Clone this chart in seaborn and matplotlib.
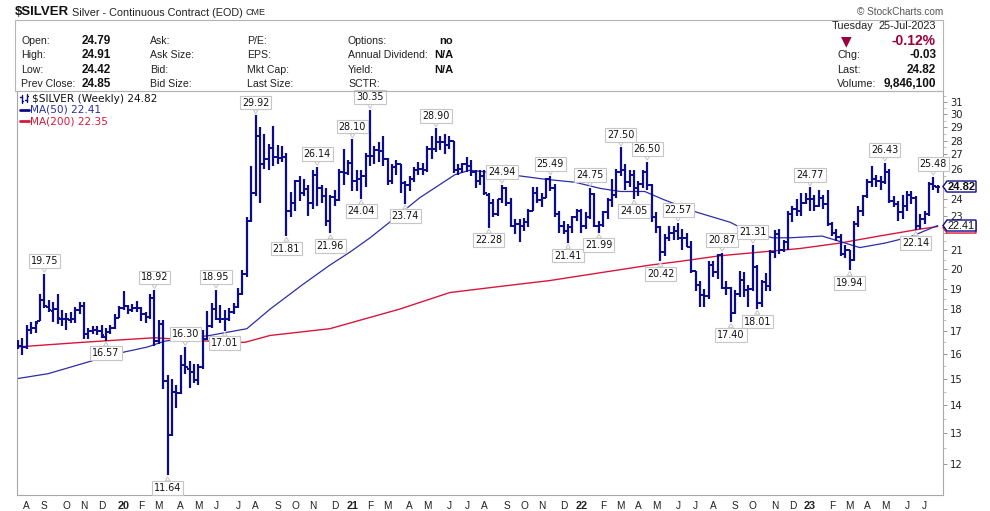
import pandas as pd
import matplotlib
matplotlib.use("Agg")
import matplotlib.pyplot as plt
import matplotlib.dates as mdates
from matplotlib.lines import Line2D
from matplotlib.patches import Rectangle, Polygon
from matplotlib.transforms import IdentityTransform
from matplotlib.ticker import FixedLocator, FixedFormatter, NullFormatter
import seaborn as sns

# --- weekly bars, first bar is the week of 22-Jul-2019 ---
first_week = "2019-07-22"

opens = [
    16.45, 16.35, 16.30, 17.05, 17.15, 17.45, 18.45, 18.10, 17.90, 18.00,
    17.55, 17.55, 17.50, 17.55, 17.95, 18.15, 16.85, 17.00, 17.05, 17.00,
    16.75, 16.95, 17.15, 17.60, 18.05, 18.15, 17.95, 18.05, 18.05, 17.75,
    17.65, 18.55, 16.55, 17.30, 14.90, 12.95, 14.50, 14.45, 15.55, 15.40,
    15.25, 14.95, 15.45, 16.65, 17.20, 18.00, 17.55, 17.55, 17.55, 17.85,
    18.10, 18.75, 19.75, 22.70, 24.40, 28.30, 26.30, 26.70, 27.45, 26.85,
    26.75, 26.80, 23.25, 23.80, 25.15, 24.40, 24.65, 23.80, 25.55, 24.75,
    24.20, 22.65, 24.15, 23.95, 25.75, 25.70, 26.40, 25.20, 25.30, 25.50,
    26.90, 26.90, 27.30, 27.25, 26.65, 25.20, 26.15, 26.30, 25.05, 24.90,
    25.30, 25.90, 26.00, 25.95, 27.40, 27.40, 27.90, 27.90, 27.70, 28.00,
    25.90, 26.00, 26.30, 26.20, 25.80, 25.20, 25.50, 24.30, 23.75, 23.10,
    24.00, 24.70, 23.80, 22.40, 22.50, 22.40, 22.60, 23.30, 24.40, 23.95,
    24.10, 25.30, 24.75, 23.10, 22.40, 22.10, 22.30, 22.90, 23.30, 22.40,
    22.90, 24.35, 22.40, 22.45, 23.20, 23.95, 24.25, 25.80, 25.90, 25.10,
    25.60, 24.70, 25.00, 25.75, 24.95, 22.90, 22.35, 20.90, 21.70, 22.00,
    22.10, 21.70, 21.70, 21.20, 19.90, 19.20, 18.70, 18.65, 20.20, 19.85,
    20.75, 19.05, 19.05, 17.80, 18.75, 19.45, 18.95, 19.00, 20.10, 18.30,
    19.35, 19.15, 20.90, 21.90, 21.00, 21.45, 23.10, 23.40, 23.30, 23.80,
    24.00, 24.00, 23.60, 24.10, 23.70, 22.50, 22.00, 21.75, 20.80, 21.00,
    20.50, 22.50, 23.30, 24.20, 25.10, 25.30, 25.20, 25.10, 25.80, 23.90,
    23.70, 23.20, 23.60, 24.30, 24.10, 22.40, 22.80, 23.10, 25.00, 24.79,
]
highs = [
    16.60, 16.70, 17.25, 17.40, 17.45, 18.75, 19.75, 18.45, 18.35, 18.75,
    17.95, 17.80, 17.85, 18.10, 18.35, 18.35, 17.15, 17.20, 17.20, 17.25,
    17.15, 17.25, 17.75, 18.15, 18.90, 18.20, 18.25, 18.40, 18.10, 17.85,
    18.75, 18.92, 17.50, 17.50, 15.15, 15.00, 14.75, 15.95, 16.30, 15.70,
    15.60, 15.60, 17.05, 17.90, 18.30, 18.95, 18.20, 17.95, 18.05, 18.30,
    19.05, 19.95, 22.90, 26.20, 29.92, 29.00, 28.50, 27.75, 29.10, 27.70,
    27.60, 27.10, 24.45, 25.25, 25.50, 25.30, 24.90, 25.90, 26.14, 24.90,
    24.70, 24.30, 24.60, 26.00, 27.40, 26.60, 28.10, 25.90, 25.90, 27.10,
    30.35, 27.60, 27.90, 28.30, 26.75, 26.30, 26.60, 26.30, 25.15, 25.50,
    26.10, 26.50, 26.40, 27.60, 28.30, 28.90, 28.30, 28.50, 28.30, 28.00,
    26.30, 26.40, 26.80, 26.60, 25.90, 25.90, 25.90, 24.40, 24.00, 24.00,
    24.94, 24.80, 24.10, 22.80, 22.80, 22.85, 23.40, 24.80, 24.80, 24.40,
    25.40, 25.49, 25.00, 23.30, 22.70, 22.50, 23.00, 23.40, 23.40, 23.20,
    24.75, 24.40, 22.70, 23.30, 24.10, 25.30, 26.00, 27.50, 26.30, 25.90,
    25.90, 25.20, 25.90, 26.50, 25.00, 23.20, 22.40, 21.90, 22.40, 22.40,
    22.57, 22.20, 22.00, 21.50, 19.90, 19.40, 19.00, 20.40, 20.40, 20.80,
    20.87, 19.40, 19.10, 18.95, 19.90, 19.85, 19.20, 21.31, 20.20, 19.45,
    19.80, 21.00, 22.15, 22.20, 21.60, 23.30, 23.60, 24.00, 24.40, 24.40,
    24.77, 24.30, 24.60, 24.30, 24.60, 22.60, 22.20, 21.90, 21.30, 21.00,
    22.70, 23.60, 24.30, 25.30, 26.20, 25.60, 25.50, 26.43, 26.00, 24.20,
    23.90, 24.30, 24.50, 24.50, 24.20, 23.10, 23.30, 25.10, 25.48, 24.91,
]
lows = [
    16.20, 15.95, 16.20, 16.85, 16.90, 17.45, 18.05, 17.85, 17.40, 17.30,
    17.20, 17.05, 17.35, 17.35, 17.75, 16.65, 16.65, 16.85, 16.80, 16.70,
    16.57, 16.85, 17.10, 17.60, 17.95, 17.75, 17.85, 17.85, 17.45, 17.35,
    17.55, 16.35, 16.45, 14.60, 11.64, 12.90, 13.90, 14.40, 15.20, 14.65,
    14.85, 14.75, 15.40, 16.60, 17.15, 17.50, 17.35, 17.01, 17.45, 17.75,
    18.05, 18.70, 19.60, 22.60, 24.20, 23.80, 26.00, 25.90, 26.20, 26.30,
    26.50, 21.81, 22.90, 23.30, 23.90, 24.20, 23.00, 23.40, 23.60, 23.80,
    22.40, 21.96, 23.60, 23.90, 24.90, 25.60, 24.50, 24.50, 24.04, 24.80,
    26.20, 26.30, 26.50, 26.20, 24.90, 25.00, 25.60, 24.40, 23.74, 24.50,
    25.10, 25.60, 25.60, 25.80, 26.70, 27.20, 27.30, 27.00, 27.40, 25.70,
    25.60, 25.70, 25.80, 25.50, 24.70, 24.90, 24.30, 22.28, 22.90, 23.00,
    23.80, 23.60, 22.30, 21.90, 21.45, 22.10, 22.30, 23.30, 23.80, 23.50,
    24.10, 24.50, 22.90, 22.00, 21.90, 21.41, 22.00, 22.70, 22.00, 22.20,
    22.80, 22.30, 21.99, 22.30, 22.80, 23.50, 24.10, 25.50, 24.60, 24.80,
    24.05, 24.20, 24.70, 24.60, 22.60, 22.00, 20.42, 20.70, 21.50, 21.60,
    21.60, 21.00, 21.20, 19.80, 18.90, 18.10, 18.10, 18.50, 19.60, 19.50,
    19.00, 18.70, 17.40, 17.75, 18.60, 18.60, 18.10, 18.90, 18.01, 18.10,
    18.90, 18.90, 20.60, 20.80, 20.90, 21.00, 22.60, 23.00, 23.00, 23.70,
    23.30, 23.30, 23.50, 23.40, 22.40, 21.80, 21.50, 20.70, 20.60, 19.94,
    20.40, 22.30, 23.00, 24.10, 24.80, 24.80, 24.60, 25.00, 23.80, 23.50,
    22.70, 22.80, 23.30, 23.70, 22.14, 22.20, 22.50, 23.00, 24.60, 24.42,
]
closes = [
    16.35, 16.30, 17.05, 17.15, 17.35, 18.45, 18.15, 17.95, 18.00, 17.60,
    17.55, 17.55, 17.55, 17.95, 18.15, 16.85, 17.00, 17.05, 17.00, 16.80,
    16.95, 17.15, 17.60, 18.05, 18.15, 17.95, 18.05, 18.05, 17.75, 17.65,
    18.55, 16.55, 17.30, 14.90, 12.95, 14.50, 14.45, 15.55, 15.45, 15.25,
    14.95, 15.45, 16.65, 17.20, 18.00, 17.55, 17.55, 17.55, 17.85, 18.10,
    18.75, 19.75, 22.70, 24.40, 28.30, 26.30, 26.70, 27.45, 26.85, 26.75,
    26.80, 23.25, 23.80, 25.15, 24.40, 24.65, 23.80, 25.55, 24.75, 24.20,
    22.65, 24.15, 23.95, 25.75, 25.70, 26.40, 25.20, 25.30, 25.50, 26.90,
    26.90, 27.30, 27.25, 26.65, 25.20, 26.15, 26.30, 25.05, 24.90, 25.30,
    25.90, 26.00, 25.95, 27.40, 27.40, 27.90, 27.90, 27.70, 28.00, 25.90,
    26.00, 26.30, 26.20, 25.80, 25.20, 25.50, 24.40, 23.75, 23.10, 24.00,
    24.70, 23.80, 22.40, 22.50, 22.40, 22.60, 23.30, 24.40, 23.95, 24.10,
    25.30, 24.75, 23.10, 22.40, 22.10, 22.30, 22.90, 23.30, 22.40, 22.90,
    24.35, 22.40, 22.45, 23.20, 23.95, 24.25, 25.80, 25.90, 25.10, 25.60,
    24.70, 25.00, 25.75, 24.95, 22.90, 22.35, 20.90, 21.70, 22.00, 22.10,
    21.70, 21.70, 21.20, 19.90, 19.20, 18.70, 18.65, 20.20, 19.85, 20.75,
    19.05, 19.05, 17.80, 18.75, 19.45, 18.95, 19.00, 20.10, 18.30, 19.35,
    19.15, 20.90, 21.90, 21.00, 21.45, 23.10, 23.40, 23.30, 23.80, 24.00,
    24.00, 23.60, 24.10, 23.70, 22.50, 22.00, 21.75, 20.80, 21.00, 20.50,
    22.50, 23.30, 24.20, 25.10, 25.30, 25.20, 25.10, 25.80, 23.90, 23.70,
    23.20, 23.60, 24.30, 24.10, 22.40, 22.80, 23.10, 25.00, 24.85, 24.82,
]

# bars that carry a high / low price label
peak_idx = [6, 31, 38, 45, 54, 68, 76, 80, 95, 110, 121, 130, 137, 143,
            150, 160, 167, 180, 197, 208]
trough_idx = [20, 34, 47, 61, 71, 78, 88, 107, 125, 132, 140, 146, 162,
              168, 189, 204]

# moving averages
ma50_dates = ["2019-07-20", "2019-09-08", "2019-11-01", "2019-12-23", "2020-02-13",
              "2020-03-11", "2020-05-22", "2020-07-20", "2020-08-26", "2020-10-17",
              "2020-11-29", "2020-12-31", "2021-02-01", "2021-03-04", "2021-04-21",
              "2021-06-16", "2021-07-09", "2021-08-26", "2021-11-06", "2021-12-24",
              "2022-02-02", "2022-03-06", "2022-04-14", "2022-05-13", "2022-07-06",
              "2022-08-28", "2022-09-29", "2022-11-04", "2022-12-01", "2023-01-21",
              "2023-02-27", "2023-03-22", "2023-05-01", "2023-06-10", "2023-07-24"]
ma50_vals = [15.0, 15.2, 15.6, 16.0, 16.3,
             16.55, 16.8, 17.1, 18.0, 19.2,
             20.2, 20.9, 21.7, 22.6, 24.1,
             25.6, 25.9, 25.7, 25.3, 25.1,
             24.7, 24.5, 24.5, 24.0, 23.2,
             22.6, 22.0, 21.7, 21.7, 21.8,
             21.4, 21.15, 21.4, 21.75, 22.41]

ma200_dates = ["2019-07-20", "2019-11-01", "2020-02-24", "2020-05-22", "2020-07-17",
               "2020-08-26", "2020-11-29", "2021-03-20", "2021-06-08", "2021-08-26",
               "2021-11-14", "2022-02-02", "2022-04-22", "2022-06-09", "2022-08-11",
               "2022-10-14", "2022-12-17", "2023-02-18", "2023-04-22", "2023-06-26",
               "2023-07-24"]
ma200_vals = [16.3, 16.5, 16.7, 16.55, 16.5,
              16.8, 17.1, 18.0, 18.8, 19.1,
              19.4, 19.8, 20.2, 20.4, 20.7,
              20.9, 21.1, 21.4, 21.8, 22.2,
              22.35]

price_ticks = list(range(12, 32))
hidden_ticks = [22, 25]   # covered by the value tags
month_letters = "JFMAMJJASOND"

info_labels = [["Open:", "High:", "Low:", "Prev Close:"],
               ["Ask:", "Ask Size:", "Bid:", "Bid Size:"],
               ["P/E:", "EPS:", "Mkt Cap:", "Last Size:"],
               ["Options:", "Annual Dividend:", "Yield:", "SCTR:"]]
info_values = ["24.79", "24.91", "24.42", "24.85"]
info_values_right = ["no", "N/A", "N/A", ""]
quote_labels = ["Chg:", "Last:", "Volume:"]
quote_values = ["-0.03", "24.82", "9,846,100"]

W, H = 990, 511
navy = "#0b0b8c"
ma50_color = "#2d2da8"
ma200_color = "#d8173c"
dark_red = "#99003d"

sns.set_theme(style="white")
plt.rcParams["font.family"] = ["DejaVu Sans"]

fig = plt.figure(figsize=(W / 100, H / 100), dpi=100)
fig.patch.set_facecolor("white")
ax = fig.add_axes([17 / W, 1 - 495 / H, 926 / W, 404 / H])
ax.set_facecolor("white")

weeks = pd.date_range(first_week, periods=len(closes), freq="7D")
xs = mdates.date2num(weeks)

# moving averages (seaborn), under the bars
sns.lineplot(x=mdates.date2num(pd.to_datetime(ma200_dates)), y=ma200_vals, ax=ax,
             color=ma200_color, lw=1.0, estimator=None, sort=False, zorder=1)
sns.lineplot(x=mdates.date2num(pd.to_datetime(ma50_dates)), y=ma50_vals, ax=ax,
             color=ma50_color, lw=0.9, estimator=None, sort=False, zorder=1)

# OHLC bars
tick = 4.0
ax.vlines(xs, lows, highs, color=navy, lw=1.6, zorder=3)
ax.hlines(opens, xs - tick, xs, color=navy, lw=1.4, zorder=3)
ax.hlines(closes, xs, xs + tick, color=navy, lw=1.4, zorder=3)

ax.set_yscale("log")
ax.set_ylim(11.06, 31.88)
ax.set_xlim(mdates.date2num(pd.Timestamp("2019-07-20 10:00")),
            mdates.date2num(pd.Timestamp("2023-08-01 10:00")))

# right price axis
ax.yaxis.tick_right()
ax.yaxis.set_major_locator(FixedLocator(price_ticks))
ax.yaxis.set_major_formatter(FixedFormatter(
    ["" if p in hidden_ticks else str(p) for p in price_ticks]))
ax.yaxis.set_minor_locator(FixedLocator([p + 0.5 for p in price_ticks]))
ax.yaxis.set_minor_formatter(NullFormatter())
ax.tick_params(axis="y", which="major", length=3, width=0.6, color="#888888",
               labelsize=7.2, pad=2, labelcolor="#222222")
ax.tick_params(axis="y", which="minor", length=2, width=0.5, color="#aaaaaa")

# month axis
month_pos, month_lab = [], []
for i in range(1, len(weeks)):
    if weeks[i].month != weeks[i - 1].month:
        month_pos.append(xs[i])
        m = weeks[i].month
        month_lab.append(f"{weeks[i].year % 100:02d}" if m == 1 else month_letters[m - 1])
ax.set_xticks(month_pos, labels=month_lab)
ax.xaxis.set_minor_locator(FixedLocator(xs))
ax.tick_params(axis="x", which="major", length=2.5, width=0.6, color="#888888",
               labelsize=7.3, pad=1.5, labelcolor="#222222")
ax.tick_params(axis="x", which="minor", length=1.5, width=0.5, color="#aaaaaa")
for lab in ax.get_xticklabels():
    lab.set_family(["Liberation Sans", "DejaVu Sans"])
    if lab.get_text().isdigit():
        lab.set_fontweight("bold")
        lab.set_fontsize(7.8)

for s in ax.spines.values():
    s.set_color("#a8a8a8")
    s.set_linewidth(0.8)

# high / low price labels
box = dict(boxstyle="square,pad=0.2", fc="white", ec="#c6c6c6", lw=0.8)
arrow = dict(arrowstyle="wedge,tail_width=0.5,shrink_factor=0.5", fc="white",
             ec="#c6c6c6", lw=0.7, shrinkA=0, shrinkB=1)
for i in peak_idx:
    ax.annotate(f"{highs[i]:.2f}", xy=(xs[i], highs[i]), xytext=(0, 5.5),
                textcoords="offset points", ha="center", va="bottom",
                fontsize=6.9, family=["DejaVu Sans"], color="#111111",
                bbox=box, arrowprops=arrow, zorder=6)
for i in trough_idx:
    ax.annotate(f"{lows[i]:.2f}", xy=(xs[i], lows[i]), xytext=(0, -5.5),
                textcoords="offset points", ha="center", va="top",
                fontsize=6.9, family=["DejaVu Sans"], color="#111111",
                bbox=box, arrowprops=arrow, zorder=6)


def ftext(px, py, s, **kw):
    fig.text(px / W, 1 - py / H, s, va="center", **kw)


def fline(xp, yp, **kw):
    fig.add_artist(Line2D([v / W for v in xp], [1 - v / H for v in yp],
                          transform=fig.transFigure, **kw))


sans = ["Liberation Sans", "DejaVu Sans"]

# header
ftext(15, 12, "$SILVER", fontsize=9.5, fontweight="bold", family=sans, color="#111111")
ftext(72, 12.5, "Silver - Continuous Contract (EOD)", fontsize=7.8, family=sans, color="#222222")
ftext(246, 12.5, "CME", fontsize=6.5, family=sans, color="#222222")
ftext(943, 12, "\u00a9 StockCharts.com", fontsize=7.2, family=sans, color="#555555", ha="right")

# info box
fig.add_artist(Rectangle((15 / W, 1 - 91 / H), 928 / W, 71 / H, transform=fig.transFigure,
                         fill=False, ec="#b4b4b4", lw=0.8))
rows_y = [41, 55.5, 70, 84]
for col, x0 in zip(info_labels, [21, 150, 247, 348]):
    for lab, y0 in zip(col, rows_y):
        ftext(x0, y0, lab, fontsize=7.6, family=sans, color="#222222")
for val, y0 in zip(info_values, rows_y):
    ftext(82, y0, val, fontsize=8.5, fontweight="bold", family=sans, color="#111111")
for val, y0 in zip(info_values_right, rows_y):
    ftext(453, y0, val, fontsize=8, fontweight="bold", family=sans, color="#111111", ha="right")

ftext(832, 26, "Tuesday", fontsize=7.8, family=sans, color="#222222")
ftext(936, 26, "25-Jul-2023", fontsize=7.8, family=sans, color="#222222", ha="right")
ftext(846, 41, "\u25bc", fontsize=10, family=["DejaVu Sans"], color=dark_red, ha="center")
ftext(936, 41, "-0.12%", fontsize=10, fontweight="bold", family=sans, color=dark_red, ha="right")
for lab, val, y0 in zip(quote_labels, quote_values, rows_y[1:]):
    ftext(837, y0, lab, fontsize=7.8, family=sans, color="#222222")
    ftext(936, y0, val, fontsize=8.5, fontweight="bold", family=sans, color="#111111", ha="right")

# legend in the plot
fline([21.5, 21.5], [95, 103], color=navy, lw=1.0)
fline([20, 21.5], [97, 97], color=navy, lw=1.0)
fline([21.5, 23], [101, 101], color=navy, lw=1.0)
fline([26.5, 26.5], [94, 102], color=navy, lw=1.0)
fline([25, 26.5], [100, 100], color=navy, lw=1.0)
fline([26.5, 28], [96, 96], color=navy, lw=1.0)
ftext(32, 98.5, "$SILVER (Weekly) 24.82", fontsize=7.6, color="#111111")
fline([20, 29], [110, 110], color=navy, lw=2.0)
ftext(30, 110, "MA(50) 22.41", fontsize=7.6, color=ma50_color)
fline([20, 29], [121, 121], color=ma200_color, lw=2.0)
ftext(30, 121, "MA(200) 22.35", fontsize=7.6, color=ma200_color)


# value tags on the right axis
def value_tag(val, ec, bold, dy=0.0, label=True):
    yd = ax.transData.transform((xs[-1], val))[1] - dy
    xr = ax.transAxes.transform((1, 0))[0]
    pts = [(xr, yd), (xr + 4, yd + 5.5), (xr + 33, yd + 5.5),
           (xr + 33, yd - 5.5), (xr + 4, yd - 5.5)]
    fig.add_artist(Polygon(pts, closed=True, transform=IdentityTransform(),
                           fc="white", ec=ec, lw=1.0))
    if label:
        fig.text(xr + 18.5, yd, f"{val:.2f}", transform=IdentityTransform(),
                 ha="center", va="center", fontsize=8 if bold else 7.8,
                 fontweight="bold" if bold else "normal", family=sans, color="#111111")


# MA(200) tag sits behind the MA(50) tag, only its lower edge shows
value_tag(ma200_vals[-1], ma200_color, False, dy=1.0, label=False)
value_tag(ma50_vals[-1], navy, False)
value_tag(closes[-1], navy, True)

fig.savefig("out.png", dpi=100, facecolor="white")
